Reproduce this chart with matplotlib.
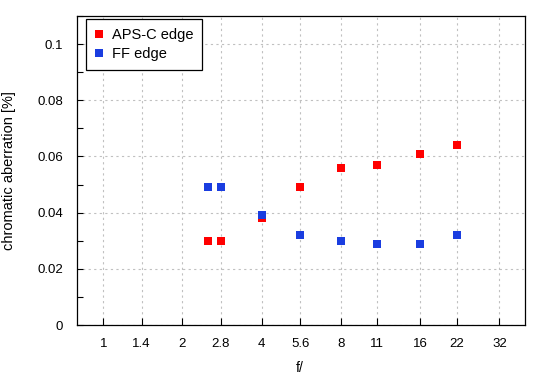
import matplotlib
matplotlib.use("Agg")
import matplotlib.pyplot as plt
from matplotlib.ticker import FixedLocator, MultipleLocator, NullLocator

plt.rcParams["font.family"] = ["Liberation Sans", "DejaVu Sans"]

# f-stops and chromatic aberration values
f_stops = [2.5, 2.8, 4, 5.6, 8, 11, 16, 22]
aps_c_edge = [0.030, 0.030, 0.038, 0.049, 0.056, 0.057, 0.061, 0.064]
ff_edge = [0.049, 0.049, 0.039, 0.032, 0.030, 0.029, 0.029, 0.032]
x_ticks = [1, 1.4, 2, 2.8, 4, 5.6, 8, 11, 16, 22, 32]
x_tick_labels = ["1", "1.4", "2", "2.8", "4", "5.6", "8", "11", "16", "22", "32"]

fig = plt.figure(figsize=(5.5, 3.8), dpi=100)
ax = fig.add_axes([0.14, 0.1447, 0.8145, 0.8133])

ax.plot(f_stops, aps_c_edge, "s", color="#ff0000", markersize=5.2,
        markeredgewidth=0, label="APS-C edge", zorder=3)
ax.plot(f_stops, ff_edge, "s", color="#1a3de0", markersize=5.2,
        markeredgewidth=0, label="FF edge", zorder=4)

ax.set_xscale("log")
ax.set_xlim(0.795, 40)
ax.set_ylim(0, 0.11)
ax.xaxis.set_major_locator(FixedLocator(x_ticks))
ax.xaxis.set_minor_locator(NullLocator())
ax.set_xticklabels(x_tick_labels)
ax.yaxis.set_major_locator(FixedLocator([0, 0.02, 0.04, 0.06, 0.08, 0.1]))
ax.yaxis.set_minor_locator(MultipleLocator(0.01))
ax.set_yticklabels(["0", "0.02", "0.04", "0.06", "0.08", "0.1"])

ax.tick_params(axis="both", which="both", direction="in", labelsize=9.5,
               colors="black", width=0.8, top=False, right=False)
ax.tick_params(axis="x", which="major", length=5, pad=9)
ax.tick_params(axis="y", which="major", length=4, pad=10)
ax.tick_params(axis="y", which="minor", length=4)

for side in ax.spines.values():
    side.set_linewidth(0.9)
    side.set_color("black")

ax.grid(True, which="major", color="#c0c0c0", linestyle=(0, (2, 3)),
        linewidth=0.8)
ax.set_axisbelow(True)

ax.set_xlabel("f/", fontsize=10)
ax.set_ylabel("chromatic aberration [%]", fontsize=10.5)
ax.xaxis.set_label_coords(0.497, -0.117)
ax.yaxis.set_label_coords(-0.136, 0.5)

leg = ax.legend(loc="upper left", bbox_to_anchor=(0.019, 0.989),
                borderaxespad=0, fancybox=False, framealpha=1,
                edgecolor="black", fontsize=10.5, handlelength=0.6,
                handletextpad=0.6, labelspacing=0.35, borderpad=0.6)
leg.get_frame().set_linewidth(0.9)

fig.savefig("out.png", dpi=100)
